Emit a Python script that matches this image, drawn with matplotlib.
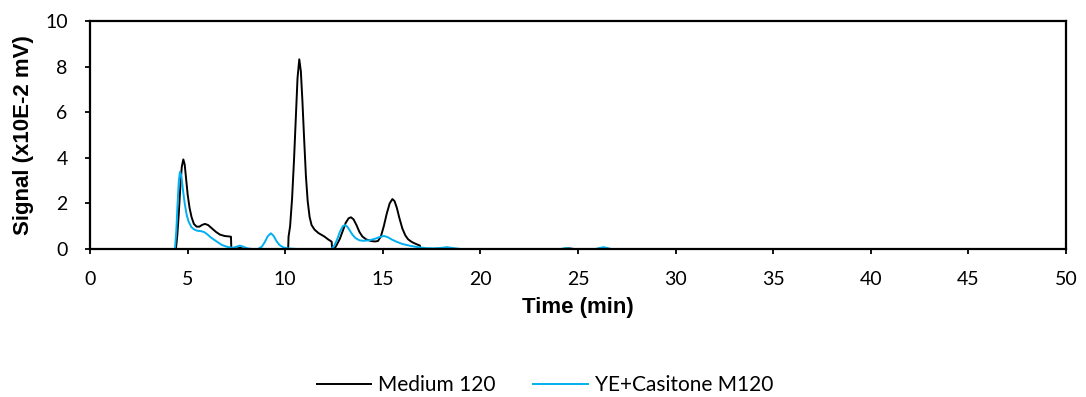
import numpy as np
import matplotlib.pyplot as plt

# Medium 120 (black trace)
t_medium = [0, 4.40, 4.47, 4.55, 4.63, 4.70, 4.78, 4.85, 4.92, 5.00,
            5.10, 5.20, 5.32, 5.46, 5.60, 5.75, 5.89, 6.05, 6.25, 6.45,
            6.66, 6.90, 7.22, 7.24, 7.50, 7.70, 7.90,
            10.15, 10.17, 10.25, 10.35, 10.45, 10.55, 10.63, 10.72, 10.80, 10.88,
            10.97, 11.06, 11.15, 11.25, 11.35, 11.50, 11.70, 12.00, 12.20, 12.38,
            12.40, 12.55, 12.65, 12.80, 12.95, 13.10, 13.25, 13.37, 13.50, 13.65,
            13.80, 13.95, 14.15, 14.40, 14.60, 14.75, 14.90, 15.05, 15.20, 15.35,
            15.49, 15.60, 15.72, 15.85, 16.00, 16.15, 16.30, 16.50, 16.70, 16.90,
            16.92, 18.00, 18.30, 18.60, 24.20, 24.50, 24.80, 26.00, 26.30, 26.60,
            45.00]
s_medium = [0, 0, 0.60, 1.60, 2.80, 3.60, 3.93, 3.70, 3.10, 2.40,
            1.80, 1.40, 1.10, 0.98, 0.98, 1.06, 1.10, 1.05, 0.90, 0.75,
            0.63, 0.57, 0.54, 0, 0.02, 0.05, 0,
            0, 0.54, 1.00, 2.20, 3.90, 5.90, 7.50, 8.32, 7.80, 6.50,
            4.80, 3.20, 2.10, 1.40, 1.05, 0.85, 0.70, 0.55, 0.42, 0.32,
            0, 0.05, 0.20, 0.45, 0.80, 1.15, 1.35, 1.39, 1.30, 1.05,
            0.75, 0.55, 0.42, 0.35, 0.33, 0.35, 0.55, 1.00, 1.55, 2.00,
            2.19, 2.10, 1.80, 1.35, 0.90, 0.60, 0.42, 0.30, 0.22, 0.15,
            0, 0, 0.05, 0, 0, 0.03, 0, 0, 0.05, 0,
            0]

# YE+Casitone M120 (blue trace)
t_casitone = [0, 4.35, 4.42, 4.48, 4.55, 4.61, 4.68, 4.76, 4.85, 4.95,
              5.05, 5.20, 5.35, 5.50, 5.70, 5.85, 6.00, 6.20, 6.50, 6.75,
              7.00, 7.30, 7.50, 7.68, 7.85, 8.05, 8.30,
              8.60, 8.80, 8.95, 9.10, 9.26, 9.40, 9.55, 9.70, 9.90, 10.20,
              10.60, 12.35, 12.50, 12.65, 12.80, 12.95, 13.06, 13.18, 13.30, 13.45,
              13.60, 13.80, 14.00, 14.30, 14.60, 14.85, 15.06, 15.25, 15.45, 15.70,
              16.00, 16.40, 16.80, 17.20, 17.60, 18.00, 18.30, 18.60, 19.00,
              24.10, 24.40, 24.70, 25.90, 26.30, 26.70, 45.00]
s_casitone = [0, 0, 0.80, 1.90, 3.00, 3.39, 3.20, 2.60, 2.00, 1.50,
              1.20, 0.95, 0.85, 0.80, 0.78, 0.74, 0.65, 0.50, 0.32, 0.18,
              0.10, 0.05, 0.10, 0.15, 0.10, 0.03, 0,
              0, 0.10, 0.30, 0.55, 0.69, 0.58, 0.35, 0.18, 0.07, 0.02,
              0, 0, 0.12, 0.40, 0.75, 1.00, 1.05, 0.98, 0.82, 0.62,
              0.48, 0.38, 0.36, 0.38, 0.45, 0.53, 0.57, 0.52, 0.42, 0.32,
              0.22, 0.14, 0.08, 0.04, 0.03, 0.05, 0.08, 0.04, 0,
              0, 0.04, 0, 0, 0.08, 0, 0]

x_ticks = np.arange(0, 51, 5)
y_ticks = np.arange(0, 11, 2)

fig = plt.figure(figsize=(10.86, 3.97), dpi=100)
ax = fig.add_axes([0.0829, 0.3728, 0.8987, 0.5742])

ax.plot(t_medium, s_medium, color="black", linewidth=1.4, label="Medium 120",
        solid_joinstyle="round")
ax.plot(t_casitone, s_casitone, color="#00B0F0", linewidth=1.4,
        label="YE+Casitone M120", solid_joinstyle="round")

ax.set_xlim(0, 50)
ax.set_ylim(0, 10)
ax.set_xticks(x_ticks)
ax.set_yticks(y_ticks)
for lab in ax.get_xticklabels() + ax.get_yticklabels():
    lab.set_fontfamily("Lato")
    lab.set_fontsize(14)
ax.tick_params(direction="out", length=3.6, width=1.3, colors="black")
ax.tick_params(axis="x", pad=12)
ax.tick_params(axis="y", pad=12.5)
for sp in ax.spines.values():
    sp.set_linewidth(1.6)

ax.set_xlabel("Time (min)", fontsize=16, fontweight="bold",
              fontfamily="Liberation Sans", labelpad=7)
ax.set_ylabel("Signal (x10E-2 mV)", fontsize=16, fontweight="bold",
              fontfamily="Liberation Sans", labelpad=8)

fig.legend(loc="center", bbox_to_anchor=(0.502, 0.03), ncol=2,
           frameon=False, prop={"family": "Lato", "size": 15},
           handlelength=2.6, columnspacing=1.8, handletextpad=0.35)

plt.savefig("out.png", dpi=100)
